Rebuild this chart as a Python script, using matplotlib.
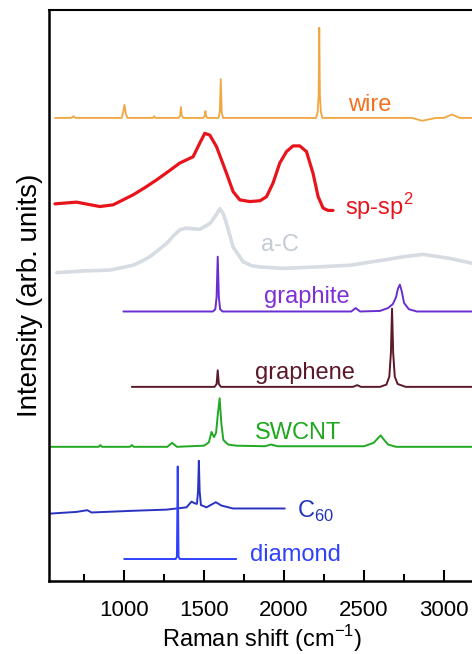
import matplotlib
matplotlib.use("Agg")
import matplotlib.pyplot as plt

plt.rcParams['font.family'] = ['Liberation Sans', 'DejaVu Sans']
plt.rcParams['mathtext.fontset'] = 'custom'
plt.rcParams['mathtext.rm'] = 'Liberation Sans'

# ---------------- data (Raman shift in cm^-1, relative intensity) ----------------
names = ["wire", "sp-sp2", "a-C", "graphite", "graphene", "SWCNT", "C60", "diamond"]
offsets = [81.1, 65.0, 54.1, 47.2, 34.0, 23.5, 12.7, 3.85]

wire_x = [567, 670, 683, 695, 985, 995, 1002, 1010, 1020, 1180, 1188, 1196, 1340, 1350, 1355, 1360, 1370,
          1495, 1505, 1508, 1512, 1520, 1590, 1598, 1604, 1610, 1618, 2200, 2210, 2216, 2220, 2224, 2230, 2240,
          2800, 2863, 2950, 3000, 3048, 3100, 3200]
wire_y = [0, 0, 0.3, 0, 0, 1.2, 2.3, 0.8, 0, 0, 0.3, 0, 0, 0.4, 1.9, 0.4, 0,
          0, 0.4, 1.2, 0.3, 0, 0, 1.0, 6.8, 1.0, 0, 0, 1.0, 4.0, 15.8, 4.0, 1.0, 0,
          0, -0.5, 0, 0, 0.6, 0, 0]

spsp2_x = [567, 702, 848, 931, 1056, 1130, 1203, 1280, 1348, 1431, 1473, 1504, 1535, 1577, 1640, 1681,
           1723, 1786, 1850, 1890, 1931, 1973, 2015, 2056, 2098, 2140, 2181, 2213, 2244, 2275, 2306]
spsp2_y = [1.05, 1.35, 0.58, 0.88, 2.63, 3.9, 5.25, 6.8, 8.2, 9.3, 11.7, 13.4, 13.1, 11.1, 6.4, 3.2,
           1.75, 1.45, 1.6, 2.3, 4.7, 8.2, 10.2, 11.2, 11.2, 10.2, 6.4, 2.3, 0.3, -0.1, -0.1]

ac_x = [579, 744, 911, 1056, 1110, 1161, 1215, 1265, 1310, 1348, 1385, 1421, 1473, 1536, 1570, 1598,
        1620, 1640, 1681, 1744, 1800, 1848, 1994, 2202, 2411, 2619, 2750, 2869, 3036, 3200]
ac_y = [-0.1, 0.2, 0.35, 1.2, 1.9, 2.7, 3.9, 5.0, 6.4, 7.4, 7.7, 7.6, 7.5, 8.5, 9.8, 11.1,
        10.2, 8.5, 4.4, 1.8, 1.1, 0.9, 0.65, 0.9, 1.2, 2.1, 2.7, 3.1, 2.4, 1.4]

graphite_x = [995, 1555, 1570, 1578, 1585, 1592, 1600, 1615, 2420, 2448, 2475, 2600, 2650, 2680, 2700,
              2712, 2724, 2736, 2750, 2780, 2830, 3200]
graphite_y = [0, 0, 0.4, 2.5, 9.6, 2.5, 0.4, 0, 0, 0.6, 0, 0.1, 0.6, 1.3, 2.5,
              4.0, 4.7, 3.5, 1.5, 0.4, 0, 0]

graphene_x = [1048, 1565, 1578, 1585, 1592, 1605, 2430, 2458, 2480, 2600, 2640, 2658, 2668, 2675, 2682,
              2692, 2710, 2760, 3200]
graphene_y = [0, 0, 0.5, 2.9, 0.5, 0, 0, 0.3, 0, 0, 0.4, 1.8, 6.0, 13.7, 6.0,
              1.8, 0.5, 0, 0]

swcnt_x = [530, 840, 851, 862, 1035, 1048, 1060, 1270, 1300, 1330, 1500, 1530, 1546, 1562, 1575, 1585,
           1597, 1608, 1620, 1650, 1700, 1880, 1919, 1960, 2500, 2560, 2590, 2604, 2620, 2650, 2700, 3200]
swcnt_y = [0, 0, 0.3, 0, 0, 0.3, 0, 0, 0.7, 0, 0.2, 0.8, 2.6, 1.7, 2.5, 5.5,
           8.5, 4.0, 1.2, 0.4, 0.2, 0.1, 0.4, 0.1, 0.1, 0.7, 1.6, 2.0, 1.4, 0.4, 0, 0]

c60_x = [535, 702, 769, 796, 1056, 1265, 1390, 1421, 1442, 1455, 1462, 1467, 1472, 1480, 1515, 1573,
         1609, 1681, 2004]
c60_y = [-0.9, -0.6, -0.3, -0.7, -0.4, -0.2, 0.2, 1.2, 0.9, 0.8, 3.0, 8.35, 3.0, 0.6, 0.2, 1.1,
         0.5, 0, 0]

diamond_x = [1000, 1322, 1330, 1335, 1340, 1348, 1701]
diamond_y = [0, 0, 0.4, 16.2, 0.4, 0, 0]

xticks_major = [1000, 1500, 2000, 2500, 3000]
xticks_minor = [750, 1250, 1750, 2250, 2750]

# ---------------- style / layout ----------------
series = [(wire_x, wire_y), (spsp2_x, spsp2_y), (ac_x, ac_y), (graphite_x, graphite_y),
          (graphene_x, graphene_y), (swcnt_x, swcnt_y), (c60_x, c60_y), (diamond_x, diamond_y)]
line_colors = ["#f2a640", "#e8141c", "#d6dce2", "#6a2ed0", "#5a1a2a", "#22a822", "#2a32c0", "#3040ff"]
line_widths = [1.3, 2.3, 2.6, 1.4, 1.4, 1.4, 1.4, 1.4]
label_texts = ["wire", r"sp-sp$^{\mathregular{2}}$", "a-C", "graphite", "graphene", "SWCNT",
               r"C$_{\mathregular{60}}$", "diamond"]
label_colors = ["#f37021", "#e8141c", "#c3cbd3", "#7d2fd6", "#5a1828", "#1ea81e", "#2233bb", "#2f40ff"]
label_pos = [(2537, 83.4, 'center'), (2380, 65.6, 'left'), (1975, 58.8, 'center'), (2142, 49.8, 'center'),
             (2130, 36.4, 'center'), (2086, 25.9, 'center'), (2079, 12.2, 'left'), (1786, 4.55, 'left')]

fig = plt.figure(figsize=(4.72, 6.54), dpi=100)
ax = fig.add_axes([49 / 472, 73 / 654, 427 / 472, 571 / 654])

for (xs, ys), off, c, lw in zip(series, offsets, line_colors, line_widths):
    ax.plot(xs, [v + off for v in ys], color=c, lw=lw, solid_joinstyle='round', solid_capstyle='round')

for txt, col, (lx, ly, ha) in zip(label_texts, label_colors, label_pos):
    ax.text(lx, ly, txt, color=col, fontsize=17, ha=ha, va='center')

ax.set_xlim(530, 3200)
ax.set_ylim(0, 100)
ax.set_xticks(xticks_major)
ax.set_xticks(xticks_minor, minor=True)
ax.set_yticks([])
ax.tick_params(axis='x', which='major', direction='in', length=8, width=1.5, labelsize=16, pad=14)
ax.tick_params(axis='x', which='minor', direction='in', length=5, width=1.5)
for s in ['left', 'bottom']:
    ax.spines[s].set_linewidth(1.8)
ax.spines['top'].set_linewidth(1.5)
ax.spines['right'].set_visible(False)

ax.set_xlabel(r"Raman shift (cm$^{\mathregular{-1}}$)", fontsize=17, labelpad=1)
ax.set_ylabel("Intensity (arb. units)", fontsize=20, labelpad=4)

fig.savefig("out.png", dpi=100)
